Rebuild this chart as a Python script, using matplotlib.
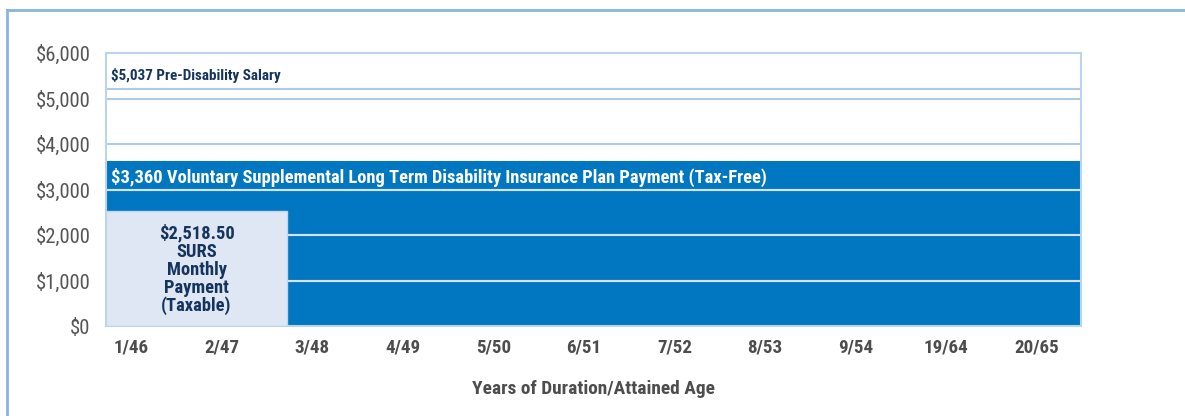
import matplotlib
matplotlib.use("Agg")
import matplotlib.pyplot as plt
from matplotlib.lines import Line2D
from matplotlib import font_manager

names = {f.name for f in font_manager.fontManager.ttflist}
prefs = ["Roboto Condensed", "Liberation Sans Narrow", "Open Sans Condensed",
         "Noto Sans Condensed", "Arial Narrow", "Roboto", "Liberation Sans"]
cond = next((n for n in prefs if n in names), "DejaVu Sans")
plt.rcParams['font.family'] = [cond, 'DejaVu Sans']

categories = ["1/46", "2/47", "3/48", "4/49", "5/50", "6/51", "7/52", "8/53", "9/54", "19/64", "20/65"]
salary_level = 5210          # drawn line of the salary band
ltd_level = 3630             # top of the blue LTD band
surs_level = 2518.5          # top of SURS box
surs_years = 2               # SURS box covers first categories
yticks = [0, 1000, 2000, 3000, 4000, 5000, 6000]
ytick_labels = ["$0", "$1,000", "$2,000", "$3,000", "$4,000", "$5,000", "$6,000"]

W, H = 1185, 416
fig = plt.figure(figsize=(W / 100, H / 100), dpi=100)
L, R, T, B = 106, 1081, 53, 326
ax = fig.add_axes([L / W, 1 - B / H, (R - L) / W, (B - T) / H])

x0, x1 = -0.28, 10.49
ax.set_xlim(x0, x1)
ax.set_ylim(0, 6000)

blue = "#0077C0"
grid_light = "#AFC9E8"
navy = "#14345E"
gray = "#4D4D4D"

ax.bar(x0, ltd_level, width=x1 - x0, align='edge', color=blue, zorder=1, linewidth=0)

for y in yticks[1:-1]:
    ax.axhline(y, color=grid_light, lw=1.5, zorder=2)
for y in yticks[1:]:
    if y < ltd_level:
        ax.axhline(y, color="#D5E4F4", lw=1.5, zorder=2.5)

ax.axhline(salary_level, color=grid_light, lw=1.5, zorder=2)

ax.bar(x0, surs_level, width=(surs_years - 0.28) - x0, align='edge',
       color="#DEE7F3", edgecolor="#C4D6EE", linewidth=1.0, zorder=3)

for s in ax.spines.values():
    s.set_color("#BCD3EE")
    s.set_linewidth(1.5)

ax.set_yticks(yticks)
ax.set_yticklabels(ytick_labels, fontsize=15, color="#555555")
ax.set_xticks(range(len(categories)))
ax.set_xticklabels(categories, fontsize=13.5, color=gray, fontweight='bold')
ax.tick_params(axis='both', length=0)
ax.tick_params(axis='y', pad=11)
ax.tick_params(axis='x', pad=9)
xl = ax.set_xlabel("Years of Duration/Attained Age", fontsize=14, color=gray,
                   fontweight='bold', labelpad=17)

t_sal = ax.text(x0 + 0.055, 5500, "$5,037 Pre-Disability Salary",
                fontsize=12, color=navy, fontweight='bold', va='center', ha='left', zorder=5)
t_ltd = ax.text(x0 + 0.055, 3270,
                "$3,360 Voluntary Supplemental Long Term Disability Insurance Plan Payment (Tax-Free)",
                fontsize=13.5, color="white", fontweight='bold', va='center', ha='left', zorder=5)
t_surs = ax.text((x0 + surs_years - 0.28) / 2, 1237,
                 "$2,518.50\nSURS\nMonthly\nPayment\n(Taxable)",
                 fontsize=12.5, color=navy, fontweight='bold', va='center', ha='center',
                 linespacing=1.0, zorder=5)

# fit text widths to the reference (pixels)
fig.canvas.draw()
rend = fig.canvas.get_renderer()

def fit(text, target, probe=None):
    p = probe if probe is not None else text
    w = p.get_window_extent(rend).width
    return text.get_fontsize() * target / w

fs = fit(t_sal, 171); t_sal.set_fontsize(fs)
fs = fit(t_ltd, 660); t_ltd.set_fontsize(fs)
probe = ax.text(0, 0, "$2,518.50", fontsize=t_surs.get_fontsize(), fontweight='bold')
fs = fit(t_surs, 76, probe); t_surs.set_fontsize(fs); probe.remove()
fs = fit(xl, 243); xl.set_fontsize(fs)
yl = ax.get_yticklabels()
fsy = yl[-1].get_fontsize() * 55 / yl[-1].get_window_extent(rend).width
for t in yl:
    t.set_fontsize(fsy)
xls = ax.get_xticklabels()
fsx = xls[9].get_fontsize() * 45 / xls[9].get_window_extent(rend).width
for t in xls:
    t.set_fontsize(fsx)

fc = "#86B6DF"
fig.add_artist(Line2D([7 / W, 1], [1 - 10 / H, 1 - 10 / H], color=fc, lw=2,
                      transform=fig.transFigure))
fig.add_artist(Line2D([7 / W, 7 / W], [0, 1 - 10 / H], color=fc, lw=2,
                      transform=fig.transFigure))

fig.savefig("out.png", dpi=100)
